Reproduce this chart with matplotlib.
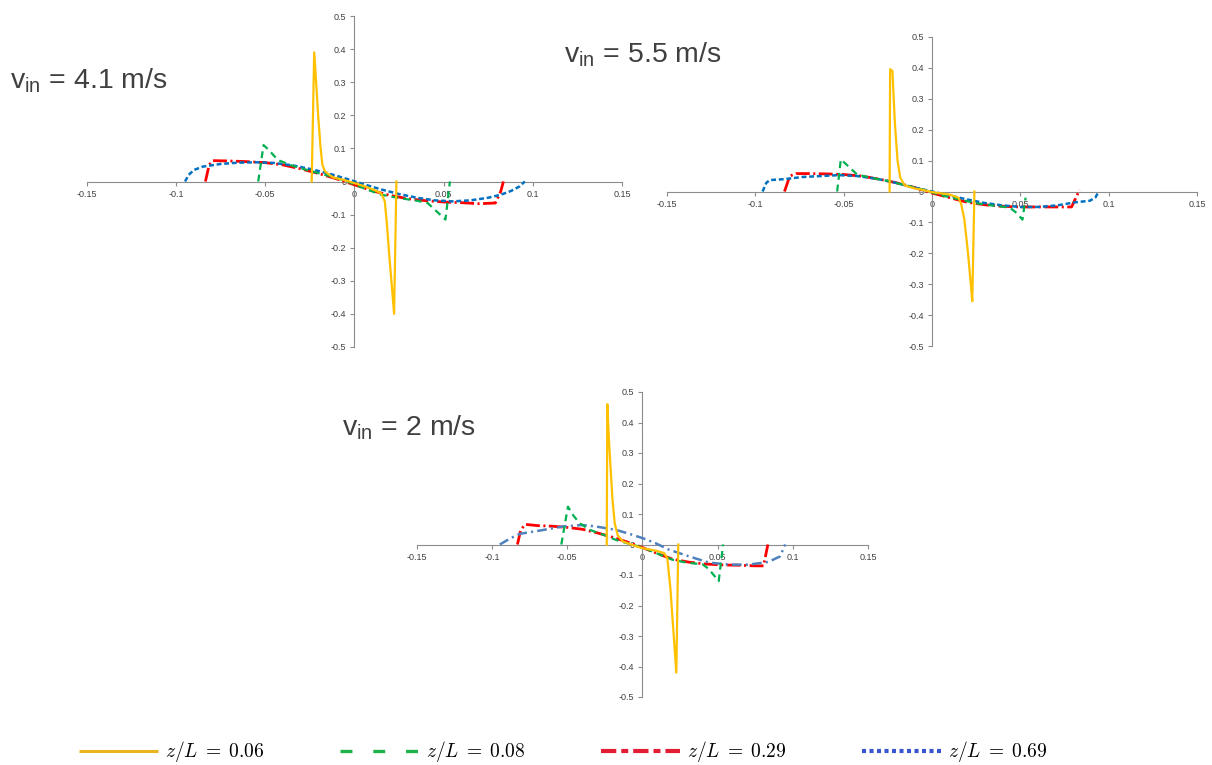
import numpy as np
import matplotlib as mpl
mpl.use("agg")
import matplotlib.pyplot as plt
from matplotlib.lines import Line2D
from matplotlib.font_manager import FontProperties

plt.rcParams['font.family'] = ['Liberation Sans', 'DejaVu Sans']
plt.rcParams['lines.scale_dashes'] = False

### velocity profiles across the channel, one panel per inlet speed

# v_in = 4.1 m/s
x41_z06 = [-0.0240, -0.0226, -0.0215, -0.0204, -0.0190, -0.0180, -0.0165, -0.0120, -0.0060, 0.0000,
           0.0060, 0.0120, 0.0150, 0.0170, 0.0182, 0.0196, 0.0210, 0.0222, 0.0235]
u41_z06 = [0.000, 0.390, 0.300, 0.200, 0.100, 0.050, 0.030, 0.012, 0.005, -0.005,
           -0.015, -0.028, -0.036, -0.060, -0.130, -0.230, -0.320, -0.400, 0.000]
x41_z08 = [-0.0540, -0.0510, -0.0480, -0.0430, -0.0350, -0.0250, -0.0150, -0.0050, 0.0050, 0.0150,
           0.0250, 0.0350, 0.0410, 0.0460, 0.0510, 0.0535]
u41_z08 = [0.000, 0.110, 0.095, 0.065, 0.048, 0.032, 0.018, 0.002, -0.020, -0.040,
           -0.050, -0.058, -0.065, -0.090, -0.115, 0.000]
x41_z29 = [-0.0836, -0.0815, -0.0795, -0.0700, -0.0600, -0.0500, -0.0400, -0.0300, -0.0200, -0.0100,
           0.0000, 0.0100, 0.0200, 0.0300, 0.0400, 0.0500, 0.0600, 0.0700, 0.0790, 0.0820, 0.0835]
u41_z29 = [0.000, 0.050, 0.063, 0.062, 0.060, 0.057, 0.050, 0.038, 0.024, 0.008,
           -0.010, -0.028, -0.042, -0.052, -0.058, -0.062, -0.064, -0.067, -0.065, -0.030, 0.000]
x41_z69 = [-0.0950, -0.0930, -0.0900, -0.0850, -0.0750, -0.0650, -0.0550, -0.0450, -0.0350, -0.0250,
           -0.0150, -0.0050, 0.0050, 0.0150, 0.0250, 0.0350, 0.0450, 0.0550, 0.0650, 0.0750,
           0.0820, 0.0880, 0.0925, 0.0955]
u41_z69 = [0.000, 0.020, 0.035, 0.045, 0.053, 0.057, 0.058, 0.056, 0.049, 0.038,
           0.025, 0.009, -0.008, -0.024, -0.038, -0.049, -0.057, -0.060, -0.057, -0.049,
           -0.040, -0.028, -0.015, 0.000]

# v_in = 5.5 m/s
x55_z06 = [-0.0240, -0.0237, -0.0224, -0.0210, -0.0195, -0.0180, -0.0155, -0.0100, -0.0050, 0.0000,
           0.0050, 0.0100, 0.0150, 0.0165, 0.0183, 0.0204, 0.0218, 0.0228, 0.0240]
u55_z06 = [0.000, 0.396, 0.390, 0.220, 0.100, 0.045, 0.020, 0.010, 0.005, -0.002,
           -0.006, -0.010, -0.020, -0.040, -0.090, -0.200, -0.290, -0.355, 0.000]
x55_z08 = [-0.0537, -0.0516, -0.0480, -0.0424, -0.0350, -0.0250, -0.0150, -0.0050, 0.0050, 0.0150,
           0.0250, 0.0350, 0.0440, 0.0480, 0.0512, 0.0530]
u55_z08 = [0.000, 0.104, 0.085, 0.055, 0.045, 0.034, 0.020, 0.006, -0.012, -0.025,
           -0.038, -0.046, -0.052, -0.070, -0.091, -0.020]
x55_z29 = [-0.0835, -0.0805, -0.0770, -0.0700, -0.0600, -0.0500, -0.0400, -0.0300, -0.0200, -0.0100,
           0.0000, 0.0100, 0.0200, 0.0300, 0.0400, 0.0500, 0.0600, 0.0700, 0.0790, 0.0835]
u55_z29 = [0.000, 0.050, 0.058, 0.058, 0.057, 0.055, 0.050, 0.040, 0.028, 0.013,
           -0.005, -0.020, -0.035, -0.043, -0.048, -0.050, -0.050, -0.050, -0.050, 0.005]
x55_z69 = [-0.0959, -0.0938, -0.0918, -0.0835, -0.0733, -0.0630, -0.0527, -0.0424, -0.0320, -0.0218,
           -0.0115, 0.0000, 0.0090, 0.0193, 0.0296, 0.0400, 0.0500, 0.0605, 0.0708, 0.0810,
           0.0893, 0.0924, 0.0944]
u55_z69 = [0.000, 0.028, 0.037, 0.040, 0.047, 0.050, 0.053, 0.050, 0.042, 0.030,
           0.015, 0.000, -0.012, -0.025, -0.037, -0.045, -0.050, -0.050, -0.045, -0.035,
           -0.030, -0.020, 0.000]

# v_in = 2 m/s
x20_z06 = [-0.0238, -0.0234, -0.0222, -0.0200, -0.0185, -0.0165, -0.0130, -0.0088, -0.0040, 0.0000,
           0.0088, 0.0143, 0.0165, 0.0185, 0.0205, 0.0225, 0.0238]
u20_z06 = [0.000, 0.460, 0.330, 0.150, 0.070, 0.030, 0.010, 0.002, -0.006, -0.012,
           -0.020, -0.028, -0.045, -0.140, -0.280, -0.420, 0.000]
x20_z08 = [-0.0540, -0.0496, -0.0460, -0.0419, -0.0350, -0.0250, -0.0176, -0.0100, 0.0000, 0.0100,
           0.0200, 0.0300, 0.0400, 0.0440, 0.0507, 0.0536]
u20_z08 = [0.000, 0.124, 0.095, 0.070, 0.048, 0.030, 0.015, 0.004, -0.010, -0.030,
           -0.050, -0.060, -0.065, -0.080, -0.120, 0.000]
x20_z29 = [-0.0832, -0.0810, -0.0780, -0.0700, -0.0600, -0.0500, -0.0400, -0.0300, -0.0200, -0.0100,
           0.0000, 0.0100, 0.0200, 0.0310, 0.0420, 0.0530, 0.0640, 0.0750, 0.0805, 0.0834]
u20_z29 = [0.000, 0.048, 0.066, 0.062, 0.060, 0.056, 0.050, 0.038, 0.024, 0.008,
           -0.010, -0.030, -0.048, -0.058, -0.064, -0.067, -0.068, -0.070, -0.070, 0.000]
x20_z69 = [-0.0949, -0.0880, -0.0816, -0.0680, -0.0530, -0.0400, -0.0310, -0.0176, -0.0088, 0.0000,
           0.0088, 0.0176, 0.0310, 0.0440, 0.0574, 0.0706, 0.0838, 0.0915, 0.0949]
u20_z69 = [0.000, 0.020, 0.035, 0.046, 0.059, 0.064, 0.059, 0.048, 0.035, 0.021,
           0.004, -0.017, -0.039, -0.059, -0.066, -0.066, -0.057, -0.039, 0.000]

x_ticks = [-0.15, -0.1, -0.05, 0, 0.05, 0.1, 0.15]
x_ticklabels = ['-0.15', '-0.1', '-0.05', '0', '0.05', '0.1', '0.15']
y_ticks = [0.5, 0.4, 0.3, 0.2, 0.1, 0, -0.1, -0.2, -0.3, -0.4, -0.5]
y_ticklabels = ['0.5', '0.4', '0.3', '0.2', '0.1', '0', '-0.1', '-0.2', '-0.3', '-0.4', '-0.5']

legend_labels = [r'$z/L \;=\; 0.06$', r'$z/L \;=\; 0.08$', r'$z/L \;=\; 0.29$', r'$z/L \;=\; 0.69$']

W, H = 1212, 765
fig = plt.figure(figsize=(W / 100, H / 100), dpi=100)


def px_axes(left, right, top, bottom):
    return fig.add_axes([left / W, 1 - bottom / H, (right - left) / W, (bottom - top) / H])


def style_axes(ax):
    ax.set_xlim(-0.15, 0.15)
    ax.set_ylim(-0.5, 0.5)
    ax.spines['left'].set_position(('data', 0))
    ax.spines['bottom'].set_position(('data', 0))
    ax.spines['top'].set_visible(False)
    ax.spines['right'].set_visible(False)
    for s in ('left', 'bottom'):
        ax.spines[s].set_color('#8c8c8c')
        ax.spines[s].set_linewidth(0.8)
    ax.set_xticks(x_ticks)
    ax.set_xticklabels(x_ticklabels)
    ax.set_yticks(y_ticks)
    ax.set_yticklabels(y_ticklabels)
    ax.tick_params(direction='out', length=3, width=0.8, color='#8c8c8c',
                   labelsize=6.5, labelcolor='#404040', pad=3)
    ax.patch.set_alpha(0)


def draw_panel(ax, xs, us, blue_dashdot=False):
    x06, x08, x29, x69 = xs
    u06, u08, u29, u69 = us
    ax.plot(x29, u29, color='#FF0000', lw=2.0, dashes=(10, 2.5, 1.5, 2.5), zorder=3)
    if blue_dashdot:
        ax.plot(x69, u69, color='#4F81BD', lw=1.8, dashes=(7, 3, 1.5, 3), zorder=4)
    else:
        ax.plot(x69, u69, color='#0070C0', lw=1.8, dashes=(3.5, 2), zorder=4)
    ax.plot(x08, u08, color='#00B050', lw=1.6, dashes=(5, 3.5), zorder=5)
    ax.plot(x06, u06, color='#FFC000', lw=1.6, zorder=6)


ax1 = px_axes(87, 622, 16, 347)
ax2 = px_axes(667, 1197, 37, 346)
ax3 = px_axes(417, 868, 392, 697)

for ax in (ax1, ax2, ax3):
    style_axes(ax)

draw_panel(ax1, (x41_z06, x41_z08, x41_z29, x41_z69), (u41_z06, u41_z08, u41_z29, u41_z69))
draw_panel(ax2, (x55_z06, x55_z08, x55_z29, x55_z69), (u55_z06, u55_z08, u55_z29, u55_z69))
draw_panel(ax3, (x20_z06, x20_z08, x20_z29, x20_z69), (u20_z06, u20_z08, u20_z29, u20_z69),
           blue_dashdot=True)

# inlet velocity captions
title_kw = dict(fontsize=20.5, color='#404040', ha='left', va='baseline')
fig.text(10 / W, 1 - 88 / H, r'v$_{\mathregular{in}}$ = 4.1 m/s', **title_kw)
fig.text(564 / W, 1 - 62 / H, r'v$_{\mathregular{in}}$ = 5.5 m/s', **title_kw)
fig.text(342 / W, 1 - 435 / H, r'v$_{\mathregular{in}}$ = 2 m/s', **title_kw)

# shared legend along the bottom
handles = [
    Line2D([], [], color='#E8B51E', lw=2.2, solid_capstyle='butt'),
    Line2D([], [], color='#20B24A', lw=2.4, dashes=(8.6, 15), dash_capstyle='butt'),
    Line2D([], [], color='#E31D33', lw=3.0, dashes=(11, 3.6, 5, 3.6), dash_capstyle='butt'),
    Line2D([], [], color='#3A55D0', lw=3.0, dashes=(2.9, 2.5), dash_capstyle='butt'),
]
fs_leg = 14
em = fs_leg * 100 / 72
fig.legend(handles, legend_labels, ncol=4, loc='center left',
           bbox_to_anchor=(69 / W, 1 - 752 / H), frameon=False, borderpad=0,
           prop=FontProperties(size=fs_leg, math_fontfamily='cm'),
           handlelength=79 / em, handletextpad=7 / em, columnspacing=76 / em)

fig.savefig('out.png', dpi=100)
